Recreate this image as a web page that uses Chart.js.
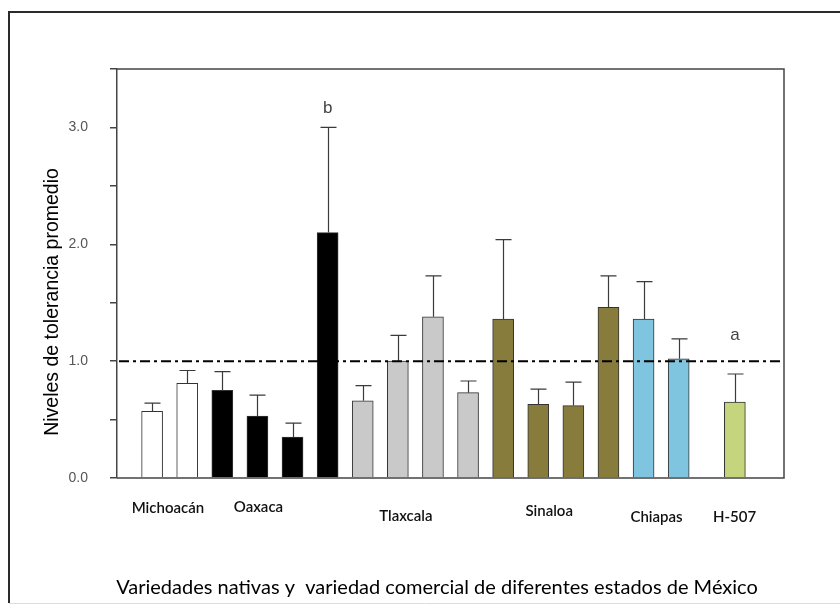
<!DOCTYPE html>
<html>
<head>
<meta charset="utf-8">
<script src="https://cdn.jsdelivr.net/npm/chart.js@4.4.1/dist/chart.umd.min.js"></script>
<style>
  html, body { margin: 0; padding: 0; background: #fff; }
  #wrap { width: 840px; height: 608px; position: relative; }
</style>
</head>
<body>
<div id="wrap"><canvas id="c" width="840" height="608"></canvas></div>
<script>
// Mean tolerance level per variety, with its standard error (upper whisker only)
const barPositions = [1, 2, 3, 4, 5, 6, 7, 8, 9, 10, 11, 12, 13, 14, 15, 16, 17.6];
const meanValues   = [0.57, 0.81, 0.75, 0.53, 0.35, 2.10, 0.66, 1.00, 1.38, 0.73, 1.36, 0.63, 0.62, 1.46, 1.36, 1.02, 0.65];
const errorValues  = [0.07, 0.11, 0.16, 0.18, 0.12, 0.90, 0.13, 0.22, 0.35, 0.10, 0.68, 0.13, 0.20, 0.27, 0.32, 0.17, 0.24];
const barGroup     = [0, 0, 1, 1, 1, 1, 2, 2, 2, 2, 3, 3, 3, 3, 4, 4, 5];

// State groups and where their names sit along the x axis
const groupNames   = ['Michoacán', 'Oaxaca', 'Tlaxcala', 'Sinaloa', 'Chiapas', 'H-507'];
const groupLabelX  = [1.45, 4.03, 8.23, 12.31, 15.37, 17.59];
const groupColors  = ['#ffffff', '#000000', '#c9c9c9', '#877c3c', '#7fc5df', '#c5d57d'];

// Significance letters
const letterText   = ['b', 'a'];
const letterX      = [6, 17.6];
const letterY      = [3.16, 1.22];

const yTickLabels  = [0, 1, 2, 3];
const referenceLevel = 1.0;

const xTitle = 'Variedades nativas y  variedad comercial de diferentes estados de México';
const yTitle = 'Niveles de tolerancia promedio';

const AXIS = '#444444';

const decorations = {
  id: 'decorations',
  afterDatasetsDraw(chart) {
    const ctx = chart.ctx;
    const xs = chart.scales.x, ys = chart.scales.y;
    const area = chart.chartArea;
    const meta = chart.getDatasetMeta(0);

    ctx.save();
    // upper error whiskers with caps
    ctx.strokeStyle = '#3a3a3a';
    ctx.lineWidth = 1.2;
    meta.data.forEach((bar, i) => {
      const yTop = ys.getPixelForValue(meanValues[i] + errorValues[i]);
      const yBar = ys.getPixelForValue(meanValues[i]);
      const x = Math.round(bar.x) + 0.5;
      ctx.beginPath();
      ctx.moveTo(x, yBar);
      ctx.lineTo(x, yTop);
      ctx.moveTo(x - 8, yTop);
      ctx.lineTo(x + 8, yTop);
      ctx.stroke();
    });

    // reference line at tolerance 1.0
    const yRef = ys.getPixelForValue(referenceLevel);
    ctx.strokeStyle = '#000';
    ctx.lineWidth = 2;
    ctx.setLineDash([10, 4, 3, 4]);
    ctx.beginPath();
    ctx.moveTo(area.left + 2, yRef);
    ctx.lineTo(area.right - 2, yRef);
    ctx.stroke();
    ctx.setLineDash([]);

    // plot frame: top and right edges
    ctx.strokeStyle = AXIS;
    ctx.lineWidth = 1.5;
    ctx.beginPath();
    ctx.moveTo(area.left, area.top);
    ctx.lineTo(area.right, area.top);
    ctx.lineTo(area.right, area.bottom);
    ctx.lineTo(area.left, area.bottom);
    ctx.stroke();

    // significance letters
    ctx.fillStyle = '#444';
    ctx.font = '17px "Liberation Sans", Arial, sans-serif';
    ctx.textAlign = 'center';
    ctx.textBaseline = 'middle';
    letterText.forEach((t, i) => {
      ctx.fillText(t, xs.getPixelForValue(letterX[i]), ys.getPixelForValue(letterY[i]));
    });

    // group names under the axis
    const labelDrop = [30, 29, 38, 33, 39, 39];
    ctx.fillStyle = '#111';
    ctx.font = '600 15px Lato, "Open Sans", sans-serif';
    groupNames.forEach((name, i) => {
      ctx.fillText(name, xs.getPixelForValue(groupLabelX[i]), area.bottom + labelDrop[i]);
    });

    // x axis title
    ctx.font = '20px Lato, "Open Sans", sans-serif';
    ctx.fillStyle = '#000';
    ctx.fillText(xTitle, 437, 588);

    // y axis title
    ctx.save();
    ctx.translate(53, 302);
    ctx.rotate(-Math.PI / 2);
    ctx.font = '19.5px "Liberation Sans", Arial, sans-serif';
    ctx.fillStyle = '#000';
    ctx.fillText(yTitle, 0, 0);
    ctx.restore();

    // outer figure border
    ctx.strokeStyle = '#2a2a2a';
    ctx.lineWidth = 2;
    ctx.beginPath();
    ctx.moveTo(9, 603);
    ctx.lineTo(9, 12);
    ctx.lineTo(840, 12);
    ctx.stroke();
    ctx.strokeStyle = '#dddddd';
    ctx.lineWidth = 1;
    ctx.beginPath();
    ctx.moveTo(9, 603.5);
    ctx.lineTo(840, 603.5);
    ctx.stroke();
    ctx.restore();
  }
};

new Chart(document.getElementById('c'), {
  type: 'bar',
  data: {
    datasets: [{
      data: barPositions.map((x, i) => ({ x: x, y: meanValues[i] })),
      backgroundColor: barGroup.map(g => groupColors[g]),
      borderColor: '#333333',
      borderWidth: 1,
      barThickness: 21
    }]
  },
  options: {
    responsive: false,
    animation: false,
    layout: { padding: { top: 69, right: 56, bottom: 130, left: 0 } },
    plugins: { legend: { display: false }, tooltip: { enabled: false } },
    scales: {
      x: {
        type: 'linear',
        min: 0,
        max: 19,
        offset: false,
        display: false
      },
      y: {
        min: 0,
        max: 3.5,
        afterFit(scale) { scale.width = 117; },
        border: { display: true, color: AXIS, width: 1.5 },
        grid: { drawOnChartArea: false, drawTicks: true, tickLength: 7, color: AXIS, lineWidth: 1.5 },
        ticks: {
          stepSize: 0.5,
          padding: 22,
          color: '#555',
          font: { family: '"Liberation Sans Narrow", "Liberation Sans", Arial, sans-serif', size: 14 },
          callback: v => yTickLabels.includes(v) ? v.toFixed(1) : ''
        }
      }
    }
  },
  plugins: [decorations]
});
</script>
</body>
</html>
